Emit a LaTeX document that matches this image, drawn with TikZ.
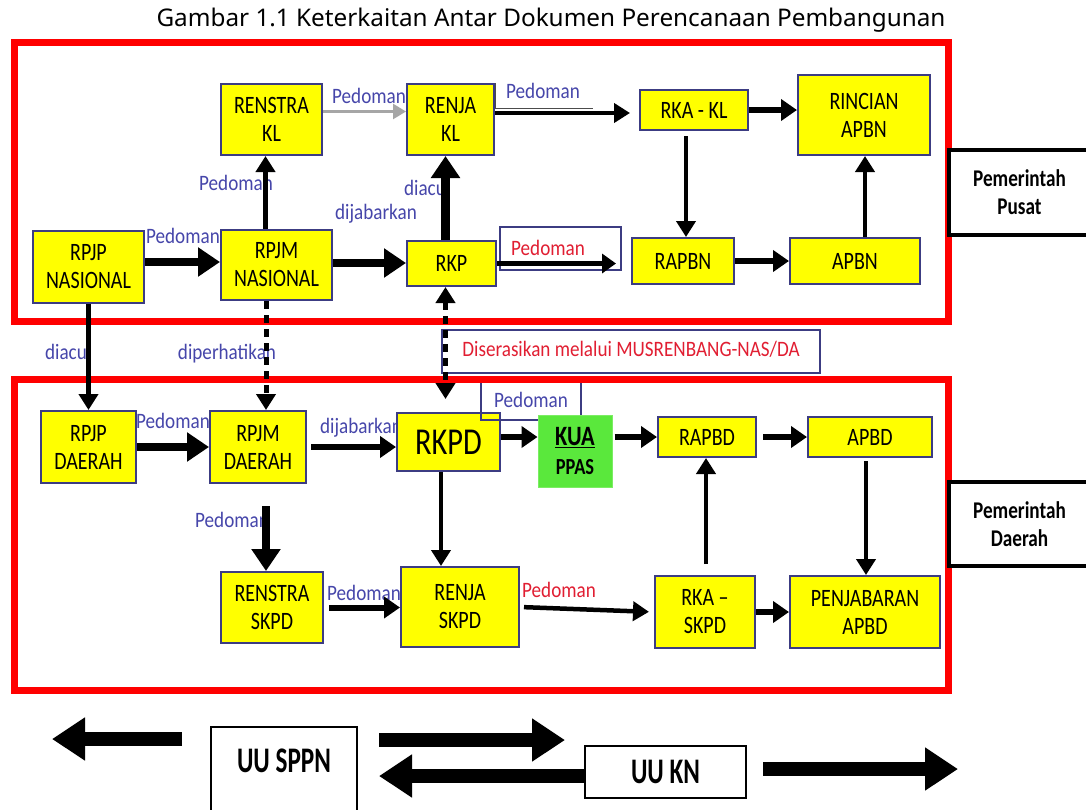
\documentclass[tikz,border=0pt]{standalone}
\usepackage{fontspec}
\setmainfont{Carlito}[FakeStretch=0.8]
\newfontfamily\titlefont{Noto Sans}
\newfontfamily\lblfont{Carlito}[FakeStretch=0.87]
\newfontfamily\uufont{Carlito}[FakeStretch=0.7]
\usetikzlibrary{arrows.meta}
\definecolor{boxyellow}{RGB}{255,255,0}
\definecolor{boxedge}{RGB}{60,60,130}
\definecolor{lblblue}{RGB}{70,70,170}
\definecolor{lblred}{RGB}{225,30,50}
\definecolor{kuagreen}{RGB}{90,232,60}
\definecolor{framered}{RGB}{255,0,0}
\tikzset{
  doc/.style={draw=boxedge,line width=2pt,fill=boxyellow,align=center,inner sep=0pt,font=\fontsize{25}{28}\selectfont},
  lbl/.style={text=lblblue,inner sep=0pt,text height=14pt,text depth=4pt,font=\lblfont\fontsize{22}{24}\selectfont},
  lblr/.style={lbl,text=lblred},
  pemda/.style={draw,line width=4.5pt,fill=white,align=center,font=\bfseries\fontsize{24}{28}\selectfont},
  uu/.style={draw,line width=2pt,fill=white,font=\uufont\bfseries\fontsize{36}{40}\selectfont},
  frame/.style={draw=framered,line width=7pt},
  flowbig/.style={line width=8.5pt,-{Triangle[length=22pt,width=28pt]}},
  flowmid/.style={line width=6pt,-{Triangle[length=16pt,width=21pt]}},
  flowthin/.style={line width=4.5pt,-{Triangle[length=16pt,width=19pt]}},
  flowdot/.style={line width=5pt,dash pattern=on 8pt off 6pt},
  blockarrow/.style={line width=13.5pt,-{Triangle[length=33pt,width=41pt]}}
}

\begin{document}
\begin{tikzpicture}[x=1pt,y=-1pt]
\clip (0,0) rectangle (1086,809);
\fill[white] (0,0) rectangle (1086,809);
\node[font=\titlefont\fontsize{24.3}{28}\selectfont] (judul) at (551,20) {Gambar 1.1 Keterkaitan Antar Dokumen Perencanaan Pembangunan};

\node[lbl] (pedA) at (183,238) {Pedoman};
\node[lbl] (pedB) at (369,98) {Pedoman};
\node[lbl] (pedC) at (236,185) {Pedoman};
\node[lbl] (diacuA) at (425,190) {diacu};
\node[lbl] (jabarA) at (376,214) {dijabarkan};
\node[lbl] (pedD) at (543,93) {Pedoman};
\node[lblr] (pedE) at (548,250) {Pedoman};
\node[lbl] (diacuB) at (66,354) {diacu};
\node[lbl] (perhati) at (227,354) {diperhatikan};
\node[lbl] (pedF) at (173,423) {Pedoman};
\node[lbl] (jabarB) at (361,428) {dijabarkan};
\node[lbl] (pedG) at (531,402) {Pedoman};
\node[lbl] (pedH) at (232,522) {Pedoman};
\node[lbl] (pedI) at (364,595) {Pedoman};
\node[lblr] (pedJ) at (559,592) {Pedoman};

\node[doc,minimum width=101pt,minimum height=71pt] (rsKL) at (271.5,119.5) {RENSTRA\\KL};
\node[doc,minimum width=87pt,minimum height=71pt] (rjKL) at (450.5,119.5) {RENJA\\KL};
\node[doc,minimum width=108pt,minimum height=40pt] (rkaKL) at (694,110) {RKA - KL};
\node[doc,minimum width=132pt,minimum height=80pt] (rincAPBN) at (864,115) {RINCIAN\\APBN};
\node[doc,minimum width=111pt,minimum height=72pt] (rpjpN) at (88.5,267) {RPJP\\NASIONAL};
\node[doc,minimum width=111pt,minimum height=70pt] (rpjmN) at (276.5,265) {RPJM\\NASIONAL};
\node[doc,minimum width=89pt,minimum height=45pt] (rkp) at (451.5,263.5) {RKP};
\node[doc,minimum width=102pt,minimum height=46pt] (rapbn) at (683,261) {RAPBN};
\node[doc,minimum width=130pt,minimum height=46pt] (apbn) at (855,261) {APBN};

\node[doc,minimum width=95pt,minimum height=72pt] (rpjpD) at (88.5,447) {RPJP\\DAERAH};
\node[doc,minimum width=96pt,minimum height=72pt] (rpjmD) at (258,447) {RPJM\\DAERAH};
\node[doc,minimum width=103pt,minimum height=58pt,font=\fontsize{38}{40}\selectfont] (rkpd) at (448.5,442) {RKPD};
\node[doc,minimum width=98pt,minimum height=40pt] (rapbd) at (707,437) {RAPBD};
\node[doc,minimum width=124pt,minimum height=40pt] (apbd) at (870,437) {APBD};
\node[doc,minimum width=102pt,minimum height=71pt] (rsSKPD) at (272,607.5) {RENSTRA\\SKPD};
\node[doc,minimum width=118pt,minimum height=80pt] (rjSKPD) at (460,607) {RENJA\\SKPD};
\node[doc,minimum width=100pt,minimum height=72pt] (rkaSKPD) at (705,612) {RKA --\\SKPD};
\node[doc,minimum width=150pt,minimum height=72pt] (penjAPBD) at (865,612) {PENJABARAN\\APBD};

\draw[boxedge,line width=1.5pt] (500,227) rectangle (621,270);
\draw[boxedge,line width=1.5pt] (481,377) rectangle (581,420);
\node[fill=kuagreen,draw=kuagreen!80!white,line width=1pt,minimum width=74pt,minimum height=72pt,align=center,inner sep=0pt,font=\bfseries\fontsize{28}{26}\selectfont] (kua) at (575,451) {\underline{KUA}\\[3pt]{\fontsize{23}{26}\selectfont PPAS}};
\node[draw=boxedge,line width=1.5pt,minimum width=378pt,minimum height=43pt,lblr] (serasi) at (631,351.5) {Diserasikan melalui MUSRENBANG-NAS/DA};

\draw[frame] (14,42) rectangle (948,321);
\draw[frame] (14,379) rectangle (948,690);
\node[pemda,minimum width=141pt,minimum height=85pt] (pusat) at (1019.5,192.5) {Pemerintah\\Pusat};
\node[pemda,minimum width=141pt,minimum height=84pt] (daerah) at (1019.5,524) {Pemerintah\\Daerah};

\coordinate (pgA) at (495,83);
\coordinate (pgB) at (495,108);
\coordinate (pgC) at (593,108);
\draw[line width=1pt,gray!60!black] (pgA) -- (pgB) -- (pgC);
\draw[line width=2.5pt,gray!70,-{Triangle[length=13pt,width=15pt]}] ([yshift=8pt]rsKL.east) -- ([yshift=8pt]rsKL.east -| rjKL.west);
\draw[flowthin,shorten >=9pt] ([yshift=6.5pt]rjKL.east) -- ([yshift=6.5pt]rjKL.east -| rkaKL.west);
\draw[flowmid] (rkaKL.east) -- (rkaKL.east -| rincAPBN.west);
\draw[flowthin,shorten <=5pt] ([xshift=-8pt]rkaKL.south) -- ([xshift=-8pt]rkaKL.south |- rapbn.north);
\draw[flowmid] (rapbn) -- (apbn);
\draw[flowthin] ([xshift=10pt]apbn.north) -- ([xshift=10pt]apbn.north |- rincAPBN.south);
\draw[flowbig] ([yshift=5pt]rpjpN.east) -- ([yshift=5pt]rpjpN.east -| rpjmN.west);
\draw[flowbig] ([yshift=2pt]rpjmN.east) -- ([yshift=2pt]rpjmN.east -| rkp.west);
\draw[flowthin] ([xshift=-11pt]rpjmN.north) -- ([xshift=-11pt]rpjmN.north |- rsKL.south);
\draw[flowbig] ([xshift=-6pt]rkp.north) -- ([xshift=-6pt]rkp.north |- rjKL.south);
\draw[line width=5pt,-{Triangle[length=14pt,width=19pt]},shorten >=15pt] (rkp.east) -- (rkp.east -| rapbn.west);

\draw[flowthin] (rpjpN) -- (rpjpD);
\draw[flowdot,-{Triangle[length=16pt,width=19pt]}] ([xshift=-10.5pt]rpjmN.south) -- ([xshift=-10.5pt]rpjmN.south |- rpjmD.north);
\draw[flowdot,{Triangle[length=16pt,width=19pt]}-{Triangle[length=16pt,width=19pt]},shorten >=13pt] ([xshift=-6pt]rkp.south) -- ([xshift=-3pt]rkpd.north);

\draw[flowbig] (rpjpD) -- (rpjmD);
\draw[flowmid,shorten <=4pt] (rpjmD.east) -- (rpjmD.east -| rkpd.west);
\draw[flowbig,shorten <=22pt] ([xshift=8pt]rpjmD.south) -- ([xshift=8pt]rpjmD.south |- rsSKPD.north);
\draw[flowthin] ([xshift=-7.5pt]rkpd.south) -- ([xshift=-7.5pt]rkpd.south |- rjSKPD.north);
\draw[flowmid] ([yshift=5pt]rkpd.east) -- ([yshift=5pt]rkpd.east -| kua.west);
\draw[flowmid,shorten <=2pt] (rapbd.west -| kua.east) -- (rapbd.west);
\draw[flowmid,shorten <=6pt] (rapbd) -- (apbd);
\draw[flowthin,shorten <=3pt] ([xshift=-4pt]apbd.south) -- ([xshift=-4pt]apbd.south |- penjAPBD.north);
\draw[flowthin] ([xshift=1pt,yshift=11pt]rkaSKPD.north) -- ([xshift=1pt]rkaSKPD.north |- rapbd.south);
\draw[flowmid,shorten <=5pt] (rsSKPD.east) -- (rsSKPD.east -| rjSKPD.west);
\draw[flowthin,shorten <=4pt,shorten >=5pt] (rjSKPD.east) -- (rkaSKPD.west);
\draw[flowmid] (rkaSKPD) -- (penjAPBD);

\node[uu,minimum width=146pt,minimum height=93pt] (sppn) at (284,773.5) {};
\node[font=\uufont\bfseries\fontsize{36}{40}\selectfont,inner sep=0pt] (sppnText) at (284,761) {UU SPPN};
\node[uu,minimum width=161pt,minimum height=52pt] (kn) at (665.5,772) {UU KN};
\coordinate (tipL) at (52,739);
\coordinate (tipR1) at (565,740);
\coordinate (tipL2) at (379,776);
\coordinate (tipR3) at (958,769);
\draw[blockarrow,shorten <=28pt] (tipL -| sppn.west) -- (tipL);
\draw[blockarrow,shorten <=21pt] (tipR1 -| sppn.east) -- (tipR1);
\draw[blockarrow] (tipL2 -| kn.west) -- (tipL2);
\draw[blockarrow,shorten <=16pt] (tipR3 -| kn.east) -- (tipR3);
\end{tikzpicture}
\end{document}
